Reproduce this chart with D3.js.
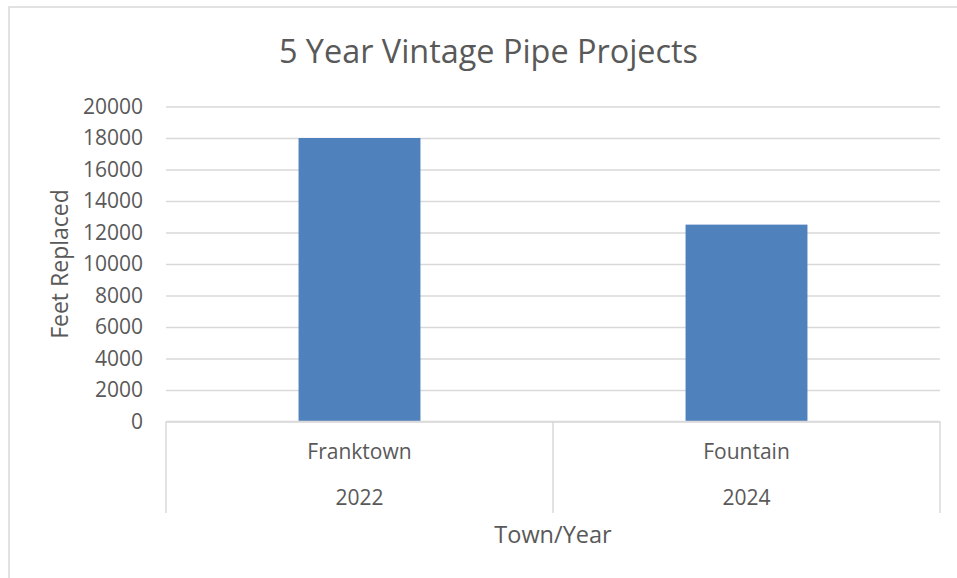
<!DOCTYPE html>
<html>
<head>
<meta charset="utf-8">
<script src="https://cdn.jsdelivr.net/npm/d3@7"></script>
<style>
  html, body { margin: 0; padding: 0; background: #fff; }
  svg { display: block; }
  text { font-family: "Open Sans", "Noto Sans", sans-serif; fill: #595959; }
</style>
</head>
<body>
<svg id="chart" width="957" height="578"></svg>
<script>
const towns = ["Franktown", "Fountain"];
const years = ["2022", "2024"];
const feetReplaced = [18000, 12500];
const yTicks = [0, 2000, 4000, 6000, 8000, 10000, 12000, 14000, 16000, 18000, 20000];
const chartTitle = "5 Year Vintage Pipe Projects";
const yTitle = "Feet Replaced";
const xTitle = "Town/Year";

const svg = d3.select("#chart");
const W = 957, H = 578;
const plot = { left: 166, right: 940, top: 106.5, bottom: 421.5 };
const grid = "#d9d9d9";

// outer chart border (only top/left visible in frame)
svg.append("rect")
  .attr("x", 9).attr("y", 7)
  .attr("width", W + 20).attr("height", H + 20)
  .attr("fill", "#fff").attr("stroke", grid).attr("stroke-width", 1.5);

const x = d3.scaleBand().domain(towns)
  .range([plot.left, plot.right]).paddingInner(0.685).paddingOuter(0.3425);
const xCat = d3.scaleBand().domain(towns).range([plot.left, plot.right]).padding(0);
const y = d3.scaleLinear().domain([0, 20000]).range([plot.bottom, plot.top]);

// gridlines + tick labels via axis
const yAxis = d3.axisLeft(y).tickValues(yTicks).tickSize(-(plot.right - plot.left)).tickPadding(23).tickFormat(d3.format("d"));
const gy = svg.append("g").attr("transform", `translate(${plot.left},0)`).call(yAxis);
gy.select(".domain").remove();
gy.selectAll(".tick line").attr("stroke", grid).attr("stroke-width", 1.5);
gy.selectAll(".tick text").attr("font-size", 21).attr("fill", "#595959")
  .style("font-family", '"Open Sans", sans-serif');

// bars
svg.append("g").selectAll("rect").data(towns).join("rect")
  .attr("x", d => x(d)).attr("width", x.bandwidth())
  .attr("y", (d, i) => y(feetReplaced[i]))
  .attr("height", (d, i) => y(0) - y(feetReplaced[i]))
  .attr("fill", "#4f81bd");

// category axis: baseline + dividers
const axBottom = 513;
svg.append("line").attr("x1", plot.left).attr("x2", plot.right)
  .attr("y1", y(0)).attr("y2", y(0)).attr("stroke", grid).attr("stroke-width", 1.5);
const dividers = [plot.left, ...towns.map(t => xCat(t) + xCat.bandwidth())];
svg.append("g").selectAll("line").data(dividers).join("line")
  .attr("x1", d => d).attr("x2", d => d)
  .attr("y1", y(0)).attr("y2", axBottom)
  .attr("stroke", grid).attr("stroke-width", 1.5);

svg.append("g").selectAll("text").data(towns).join("text")
  .attr("x", d => xCat(d) + xCat.bandwidth() / 2).attr("y", 459)
  .attr("text-anchor", "middle").attr("font-size", 21).text(d => d);
svg.append("g").selectAll("text").data(years).join("text")
  .attr("x", (d, i) => xCat(towns[i]) + xCat.bandwidth() / 2).attr("y", 505)
  .attr("text-anchor", "middle").attr("font-size", 21).text(d => d);

// axis titles
svg.append("text").attr("x", (plot.left + plot.right) / 2).attr("y", 543)
  .attr("text-anchor", "middle").attr("font-size", 23.5).text(xTitle);
svg.append("text").attr("transform", "translate(68,264) rotate(-90)")
  .attr("text-anchor", "middle").attr("font-size", 23).text(yTitle);

// title
svg.append("text").attr("x", 488.5).attr("y", 63)
  .attr("text-anchor", "middle").attr("font-size", 32.4).text(chartTitle);
</script>
</body>
</html>
